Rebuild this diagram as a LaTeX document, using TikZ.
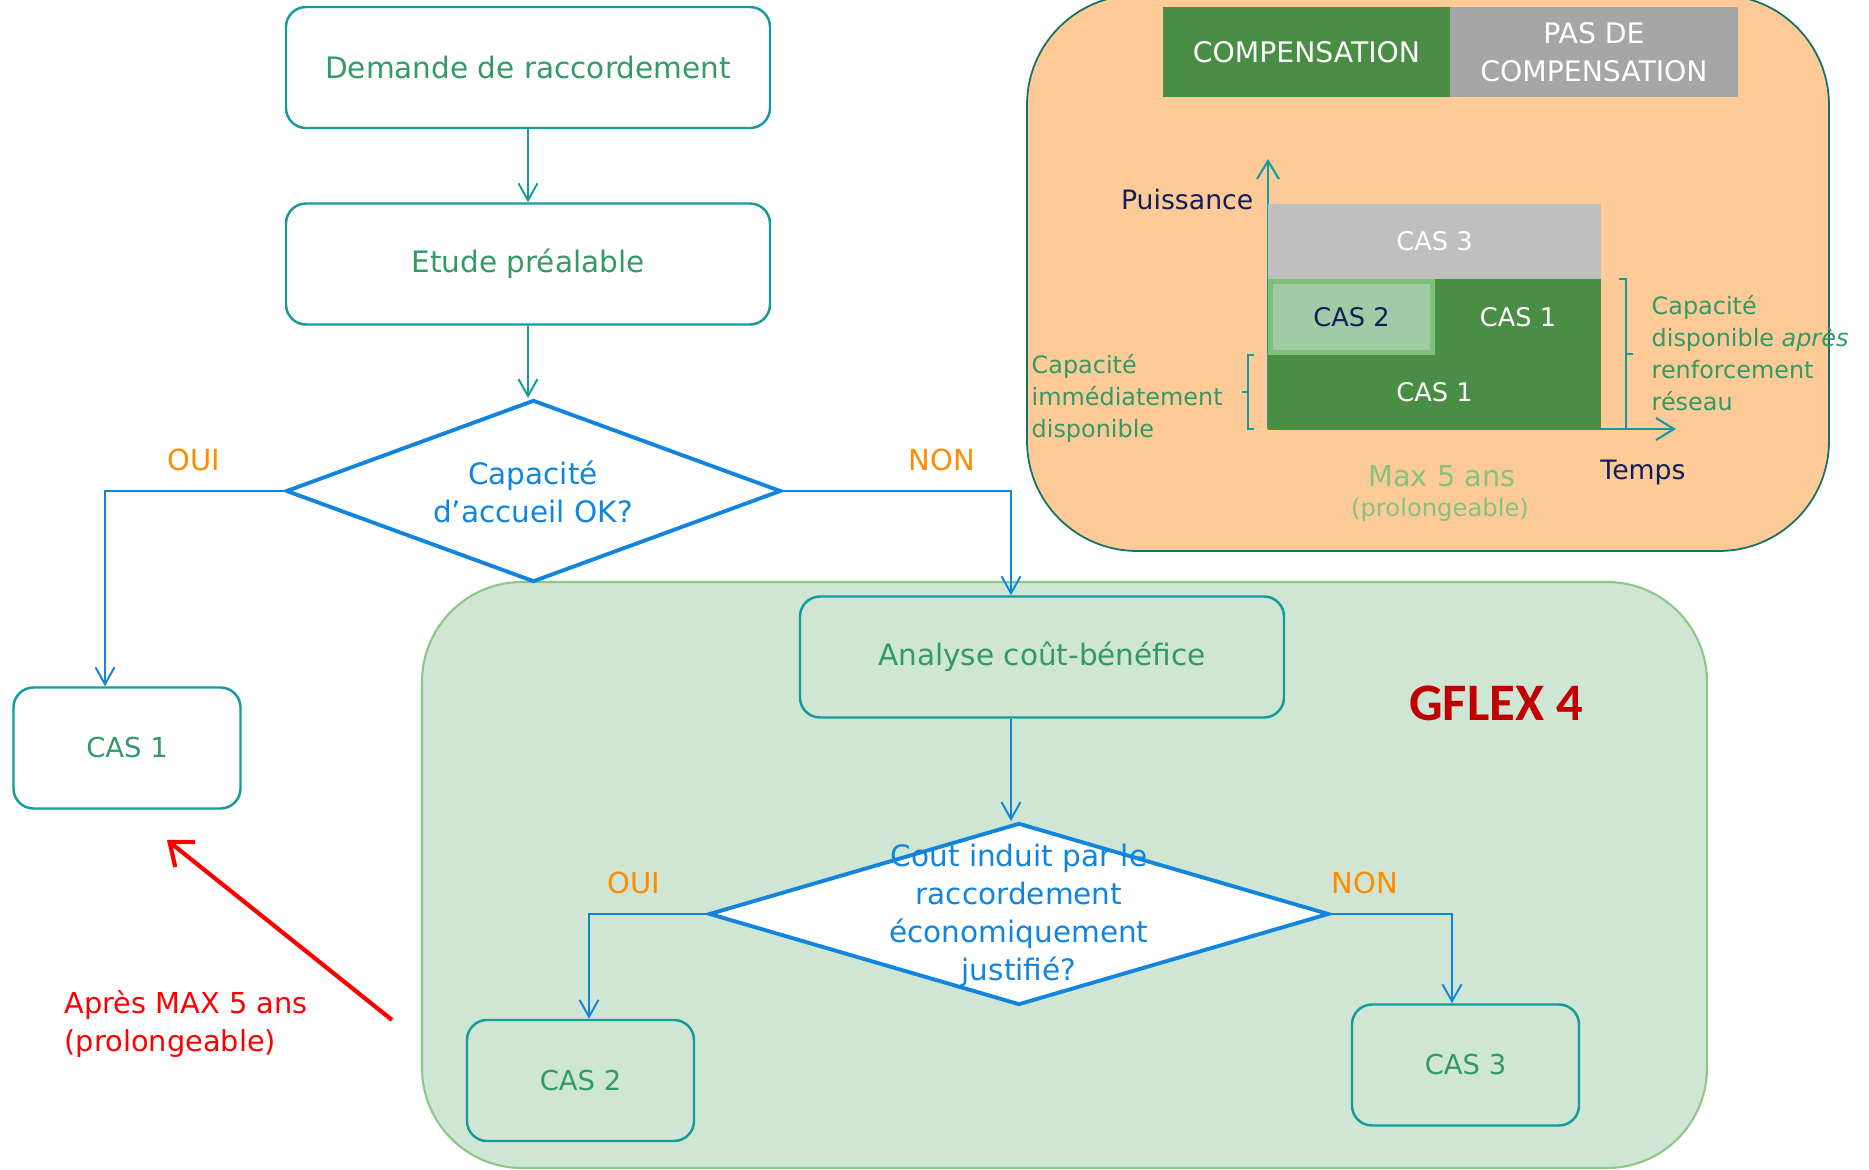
\documentclass[tikz,border=0pt]{standalone}
\usepackage{fontspec}
\setmainfont{DejaVu Sans}
\newfontfamily\titlefont{Carlito}
\usetikzlibrary{shapes.geometric,arrows.meta}
\pgfdeclarelayer{regionlayer}
\pgfdeclarelayer{edgelayer}
\pgfdeclarelayer{nodelayer}
\pgfsetlayers{regionlayer,edgelayer,nodelayer,main}
\definecolor{boxteal}{RGB}{20,155,155}
\definecolor{boxgreen}{RGB}{51,153,102}
\definecolor{flowblue}{RGB}{17,133,222}
\definecolor{answerorange}{RGB}{255,140,0}
\definecolor{regiongreen}{RGB}{207,230,212}
\definecolor{regionborder}{RGB}{140,200,135}
\definecolor{regionorange}{RGB}{253,202,152}
\definecolor{orangeborder}{RGB}{22,112,104}
\definecolor{compgreen}{RGB}{74,141,69}
\definecolor{nocompgrey}{RGB}{166,166,166}
\definecolor{cas3grey}{RGB}{191,191,191}
\definecolor{cas2green}{RGB}{160,203,165}
\definecolor{cas2border}{RGB}{126,192,122}
\definecolor{axisnavy}{RGB}{18,30,90}
\definecolor{maxgreen}{RGB}{130,196,126}
\definecolor{gflexred}{RGB}{192,0,0}
\tikzstyle{none}=[inner sep=0pt]
\tikzstyle{flowbox}=[rectangle, rounded corners=0.2cm, draw=boxteal, line width=0.7pt, text=boxgreen, minimum width=4.84cm, minimum height=1.21cm, font=\fontsize{8.4}{10.8}\selectfont]
\tikzstyle{casbox}=[flowbox, minimum width=2.27cm, font=\fontsize{7.8}{10}\selectfont]
\tikzstyle{question}=[diamond, draw=flowblue, line width=1.1pt, fill=white, inner sep=0pt]
\tikzstyle{asktext}=[inner sep=0pt, text=flowblue, align=center, font=\fontsize{8.4}{10.8}\selectfont]
\tikzstyle{answer}=[inner sep=0pt, text=answerorange, font=\fontsize{8.25}{10}\selectfont]
\tikzstyle{flowline}=[draw=boxteal, line width=0.55pt, -{Straight Barb[length=1.7mm,width=1.9mm]}]
\tikzstyle{choiceline}=[flowline, draw=flowblue]
\tikzstyle{bar}=[rectangle, inner sep=0pt, text=white, align=center, font=\fontsize{7.3}{10}\selectfont]
\tikzstyle{axis}=[draw=boxteal, line width=0.6pt, -{Straight Barb[length=1.8mm,width=2.2mm]}]
\tikzstyle{bracket}=[draw=boxteal, line width=0.6pt]
\tikzstyle{sidetext}=[inner sep=0pt, text=boxgreen, align=left, font=\fontsize{6.8}{9.1}\selectfont]
\tikzstyle{axislabel}=[inner sep=0pt, text=axisnavy, font=\fontsize{7.6}{10}\selectfont]

\begin{document}
\begin{tikzpicture}
	\useasboundingbox (0,0) rectangle (18.69,-11.70);
	\begin{pgfonlayer}{regionlayer}
		\draw[fill=regionorange, draw=orangeborder, line width=0.5pt, rounded corners=1.1cm] (10.27, 0.05) rectangle (18.29, -5.51);
		\draw[fill=regiongreen, draw=regionborder, line width=0.6pt, rounded corners=1cm] (4.22, -5.82) rectangle (17.07, -11.68);
	\end{pgfonlayer}
	\begin{pgfonlayer}{nodelayer}
		% flowchart
		\node [style=flowbox] (demande) at (5.28, -0.675) {Demande de raccordement};
		\node [style=flowbox] (etude) at (5.28, -2.64) {Etude préalable};
		\node [style=question, minimum width=4.95cm, minimum height=1.82cm] (capa) at (5.335, -4.91) {};
		\node [style=asktext] (capatext) at (5.33, -4.92) {Capacité\\d’accueil OK?};
		\node [style=casbox] (cas1) at (1.27, -7.48) {CAS 1};
		\node [style=flowbox] (analyse) at (10.42, -6.57) {Analyse coût-bénéfice};
		\node [style=question, minimum width=6.20cm, minimum height=1.82cm] (cout) at (10.19, -9.14) {};
		\node [style=asktext] (couttext) at (10.19, -9.155) {Cout induit par le\\raccordement\\économiquement\\justifié?};
		\node [style=casbox] (cas2) at (5.805, -10.805) {CAS 2};
		\node [style=casbox] (cas3) at (14.655, -10.65) {CAS 3};
		\node [style=answer] (oui1) at (1.94, -4.60) {OUI};
		\node [style=answer] (non1) at (9.42, -4.60) {NON};
		\node [style=answer] (oui2) at (6.34, -8.83) {OUI};
		\node [style=answer] (non2) at (13.65, -8.83) {NON};
		\node [style=none, text=gflexred, font=\titlefont\bfseries\fontsize{15}{18}\selectfont] (gflex) at (14.96, -7.03) {GFLEX 4};
		\node [style=none, anchor=west, align=left, text=red, font=\fontsize{8.2}{10.8}\selectfont] (apres) at (0.64, -10.24) {Après MAX 5 ans\\(prolongeable)};
		% compensation chart
		\node [style=bar, fill=compgreen, minimum width=2.87cm, minimum height=0.90cm, font=\fontsize{8.05}{10.8}\selectfont] (comp) at (13.065, -0.52) {COMPENSATION};
		\node [style=bar, fill=nocompgrey, minimum width=2.88cm, minimum height=0.90cm, font=\fontsize{8.05}{10.8}\selectfont] (nocomp) at (15.94, -0.52) {PAS DE\\COMPENSATION};
		\node [style=bar, fill=cas3grey, minimum width=3.33cm, minimum height=0.75cm] (bar3) at (14.345, -2.415) {CAS 3};
		\node [style=bar, fill=cas2green, draw=cas2border, line width=0.05cm, text=axisnavy, minimum width=1.62cm, minimum height=0.71cm] (bar2) at (13.515, -3.17) {CAS 2};
		\node [style=bar, fill=compgreen, minimum width=1.66cm, minimum height=0.76cm] (bar1up) at (15.18, -3.17) {CAS 1};
		\node [style=bar, fill=compgreen, minimum width=3.33cm, minimum height=0.74cm] (bar1) at (14.345, -3.92) {CAS 1};
		\node [style=axislabel, anchor=east] (puissance) at (12.54, -2.00) {Puissance};
		\node [style=axislabel] (temps) at (16.43, -4.73) {Temps};
		\node [style=none, text=maxgreen, font=\fontsize{8.2}{10}\selectfont] (maxans) at (14.42, -4.76) {Max 5 ans};
		\node [style=none, text=maxgreen, font=\fontsize{6.9}{9}\selectfont] (prolong) at (14.40, -5.10) {(prolongeable)};
		\node [style=sidetext, anchor=west] (immediat) at (10.31, -3.98) {Capacité\\immédiatement\\disponible};
		\node [style=sidetext, anchor=west] (renfort) at (16.51, -3.535) {Capacité\\disponible \textit{après}\\renforcement\\réseau};
	\end{pgfonlayer}
	\begin{pgfonlayer}{edgelayer}
		\coordinate (oui1bend) at (1.05, -4.91);
		\coordinate (non1bend) at (10.11, -4.91);
		\coordinate (oui2bend) at (5.89, -9.14);
		\coordinate (non2bend) at (14.52, -9.14);
		\draw[style=flowline] (demande) to (etude);
		\draw[style=flowline] (etude) to (etude.south |- capa.north);
		\draw[style=choiceline] (capa.west) -- (oui1bend) -- (oui1bend |- cas1.north);
		\draw[style=choiceline] (capa.east) -- (non1bend) -- (non1bend |- analyse.north);
		\draw[style=choiceline] (non1bend |- analyse.south) to (non1bend |- cout.north);
		\draw[style=choiceline] (cout.west) -- (oui2bend) -- (oui2bend |- cas2.north);
		\draw[style=choiceline] (cout.east) -- (non2bend) -- (non2bend |- cas3.north);
		\coordinate (redstart) at (3.92, -10.20);
		\coordinate (redend) at (1.67, -8.40);
		\draw[red, line width=1.2pt, -{Straight Barb[length=2mm,width=3.2mm]}] (redstart) to (redend);
		% chart axes and brackets
		\coordinate (origin) at (12.68, -4.29);
		\coordinate (ytop) at (12.68, -1.59);
		\coordinate (xend) at (16.76, -4.29);
		\draw[style=axis] (origin) to (ytop);
		\draw[style=axis] (origin) to (xend);
		\draw[style=bracket] (12.54, -3.55) -- (12.48, -3.55) -- (12.48, -4.29) -- (12.54, -4.29) (12.48, -3.92) -- (12.42, -3.92);
		\draw[style=bracket] (16.19, -2.79) -- (16.26, -2.79) -- (16.26, -4.29) -- (16.19, -4.29) (16.26, -3.54) -- (16.33, -3.54);
	\end{pgfonlayer}
\end{tikzpicture}
\end{document}
